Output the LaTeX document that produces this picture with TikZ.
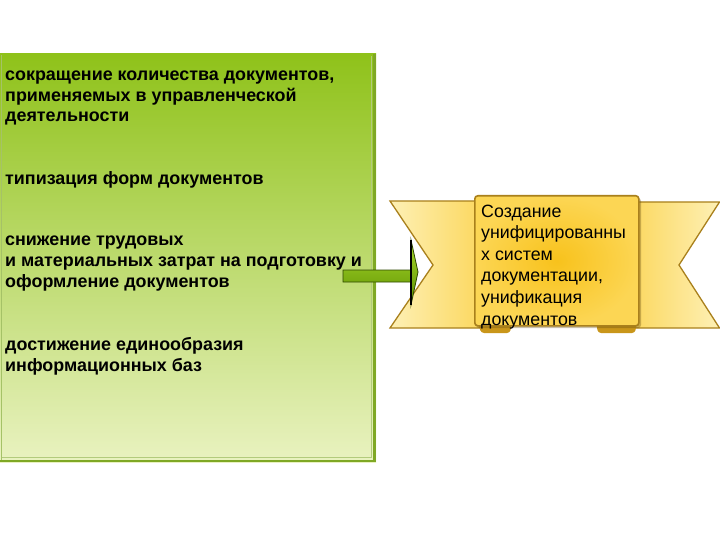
\documentclass[tikz,border=0pt]{standalone}
\usepackage{fontspec}
\setmainfont{Liberation Sans}
\definecolor{gtop}{HTML}{8FC21A}
\definecolor{gbot}{HTML}{E9F2C0}
\definecolor{gedge}{HTML}{7FA825}
\definecolor{rline}{HTML}{A9801C}
\definecolor{rlight}{HTML}{FDF0B5}
\definecolor{rmid}{HTML}{FCD860}
\definecolor{rdark}{HTML}{F8C21C}
\definecolor{rbox}{HTML}{FCD654}
\definecolor{rfold}{HTML}{C9961A}
\definecolor{arrtop}{HTML}{A8DA2C}
\definecolor{arrbot}{HTML}{5E9000}
\tikzset{
  gtext/.style={anchor=base west, align=left, inner sep=0pt, font=\fontsize{17.9}{20.6}\selectfont\bfseries, text=black},
  rtext/.style={anchor=base west, align=left, inner sep=0pt, font=\fontsize{17.8}{21.6}\selectfont, text=black},
}
\begin{document}
\begin{tikzpicture}[x=1pt,y=-1pt]
\useasboundingbox (0,0) rectangle (720,540);
\fill[white] (0,0) rectangle (720,540);
% green box
\shade[top color=gtop, bottom color=gbot] (0,54) rectangle (376,462);
\draw[gedge!70!white, line width=1.2pt] (1.5,55) -- (1.5,460);
\draw[gedge, line width=2.5pt] (374.5,54) -- (374.5,461) -- (0,461);
\draw[gedge!60!white, line width=1pt] (371,56) -- (371,457) -- (2,457);
\node[draw=none, minimum width=376pt, minimum height=408pt, anchor=north west, inner sep=0pt] (gbox) at (0,54) {};
% texts (anchor = baseline of last line)
\node[gtext] (t1) at (5,122) {сокращение количества документов,\\применяемых в управленческой\\деятельности};
\node[gtext] (t2) at (5,185) {типизация форм документов};
\node[gtext] (t3) at (5,287) {снижение трудовых\\и материальных затрат на подготовку и\\оформление документов};
\node[gtext] (t4) at (5,371) {достижение единообразия\\информационных баз};
% ribbon tails
\shade[left color=rlight, right color=rmid, draw=rline, line width=1.3pt]
  (390,201) -- (480,201) -- (480,328) -- (390,328) -- (433,265) -- cycle;
\shade[left color=rmid, right color=rlight, draw=rline, line width=1.3pt]
  (632,202) -- (719.5,202) -- (679,265) -- (719.5,328) -- (632,328) -- cycle;
% folds
\fill[rfold, rounded corners=3pt] (478,322) -- (512,322) -- (510,333) -- (481,333) -- cycle;
\fill[rfold, rounded corners=3pt] (596,322) -- (637,322) -- (635,333) -- (598,333) -- cycle;
% center box
\fill[rline!60!black, opacity=0.35, rounded corners=3pt] (476,198) rectangle (641,328);
\node[draw=rline, line width=1.6pt, rounded corners=3pt, minimum width=164pt, minimum height=130pt, anchor=north west, inner sep=0pt,
  inner color=rdark, outer color=rbox] (cbox) at (474,195) {};
\node[rtext] (ct) at (481,325) {Создание\\унифицированны\\х систем\\документации,\\унификация\\документов};
% arrow from the green box to the ribbon
\shade[top color=arrtop, bottom color=arrbot, draw=black!50!arrbot, line width=0.8pt]
  (343,270) -- (411,270) -- (411,240) -- (418,272) -- (411,305) -- (411,282) -- (343,282) -- cycle;
\draw[black, line width=1.3pt] (411,240) -- (411,305);
\end{tikzpicture}
\end{document}
